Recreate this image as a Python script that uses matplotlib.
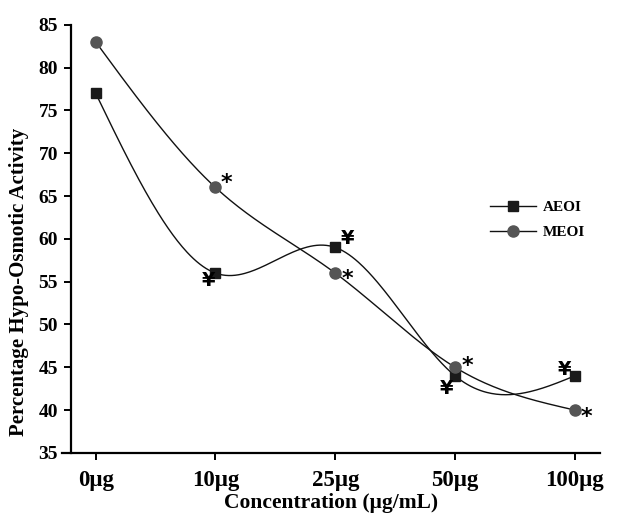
import numpy as np
import matplotlib
matplotlib.use("Agg")
from matplotlib import pyplot as plt

# data
categories = ["0\u03bcg", "10\u03bcg", "25\u03bcg", "50\u03bcg", "100\u03bcg"]
aeoi = [77, 56, 59, 44, 44]
meoi = [83, 66, 56, 45, 40]
aeoi_marks = ["", "\u00a5", "\u00a5", "\u00a5", "\u00a5"]
meoi_marks = ["", "*", "*", "*", "*"]


def natural_spline(x, y, n=300):
    # plain natural cubic spline, no scipy needed
    x = np.asarray(x, float)
    y = np.asarray(y, float)
    k = len(x)
    h = np.diff(x)
    A = np.zeros((k, k))
    b = np.zeros(k)
    A[0, 0] = 1
    A[-1, -1] = 1
    for i in range(1, k - 1):
        A[i, i - 1] = h[i - 1]
        A[i, i] = 2 * (h[i - 1] + h[i])
        A[i, i + 1] = h[i]
        b[i] = 6 * ((y[i + 1] - y[i]) / h[i] - (y[i] - y[i - 1]) / h[i - 1])
    M = np.linalg.solve(A, b)
    xs = np.linspace(x[0], x[-1], n)
    ys = np.empty_like(xs)
    for j, t in enumerate(xs):
        i = min(np.searchsorted(x, t, side="right") - 1, k - 2)
        a = x[i + 1] - t
        c = t - x[i]
        ys[j] = (M[i] * a**3 + M[i + 1] * c**3) / (6 * h[i]) \
            + (y[i] / h[i] - M[i] * h[i] / 6) * a \
            + (y[i + 1] / h[i] - M[i + 1] * h[i] / 6) * c
    return xs, ys


plt.rcParams['font.family'] = ['Liberation Serif', 'DejaVu Serif']
plt.rcParams['font.weight'] = 'bold'

fig = plt.figure(figsize=(6.41, 5.17), dpi=100)
ax = fig.add_axes([0.097, 0.124, 0.839, 0.828])

x = np.arange(len(categories))

xs, ys = natural_spline(x, aeoi)
ax.plot(xs, ys, color='#111111', lw=1.0)
xs, ys = natural_spline(x, meoi)
ax.plot(xs, ys, color='#111111', lw=1.0)

ax.plot(x, aeoi, 's', color='#1a1a1a', ms=6.5)
ax.plot(x, meoi, 'o', color='#555555', ms=8)

# legend proxies: black line, coloured marker
ax.plot([], [], '-s', color='#111111', mfc='#1a1a1a', mec='#1a1a1a', ms=6.5, lw=1.0, label='AEOI')
ax.plot([], [], '-o', color='#111111', mfc='#555555', mec='#555555', ms=8, lw=1.0, label='MEOI')
leg = ax.legend(loc='center left', bbox_to_anchor=(0.795, 0.544), frameon=False,
                prop={'family': 'Liberation Serif', 'weight': 'bold', 'size': 11},
                handlelength=3.0, handletextpad=0.5, labelspacing=0.75,
                borderpad=0, borderaxespad=0)

# significance marks (offsets in data units)
offs_a = [(0, 0), (-0.06, -0.85), (0.1, 1.05), (-0.07, -1.5), (-0.09, 0.75)]
for i, m in enumerate(aeoi_marks):
    if m:
        ax.text(x[i] + offs_a[i][0], aeoi[i] + offs_a[i][1], m, fontsize=14,
                ha='center', va='center', family='DejaVu Sans')
offs_m = [(0, 0), (0.09, 0.55), (0.1, -0.65), (0.1, 0.1), (0.1, -0.85)]
for i, m in enumerate(meoi_marks):
    if m:
        ax.text(x[i] + offs_m[i][0], meoi[i] + offs_m[i][1], m, fontsize=16,
                ha='center', va='center', family='DejaVu Sans')

ax.set_xlim(-0.28, 4.21)
ax.set_ylim(35, 85)
ax.set_yticks(range(35, 86, 5))
ax.set_xticks(x)
ax.set_xticklabels(categories)

ax.spines['top'].set_visible(False)
ax.spines['right'].set_visible(False)
ax.spines['left'].set_position(('data', -0.21))
ax.spines['left'].set_linewidth(1.6)
ax.spines['bottom'].set_linewidth(1.6)
ax.tick_params(width=1.4, length=5)
ax.tick_params(axis='x', pad=7, labelsize=16.5)
ax.tick_params(axis='y', pad=4, labelsize=14)

ax.set_xlabel("Concentration (\u03bcg/mL)", fontsize=15.5, fontweight='bold', labelpad=2)
ax.set_ylabel("Percentage Hypo-Osmotic Activity", fontsize=15, fontweight='bold')
ax.yaxis.set_label_coords(-0.062, 0.40)

fig.savefig("out.png", dpi=100)
